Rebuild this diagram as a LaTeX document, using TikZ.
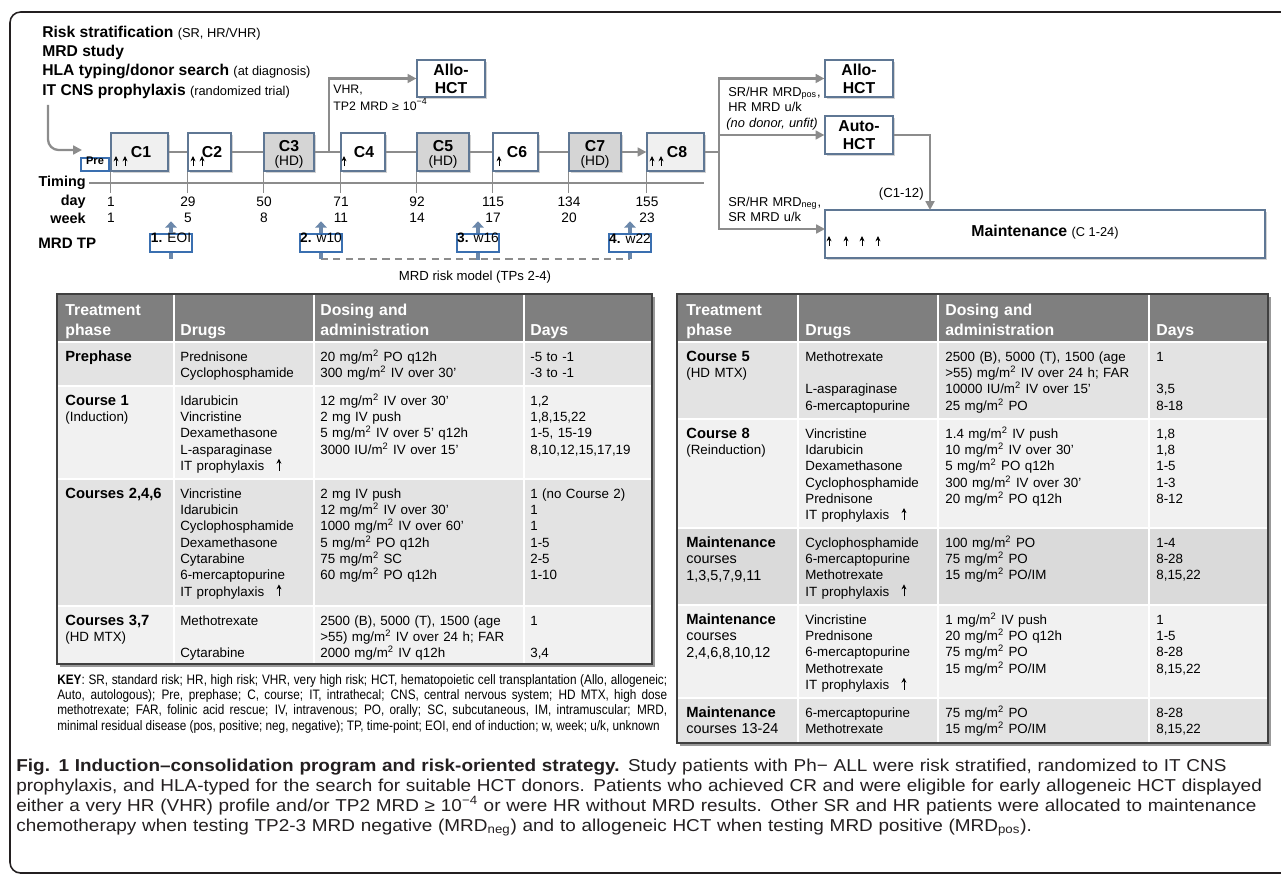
\documentclass[tikz,border=0pt]{standalone}
\usepackage{fontspec}
\setmainfont{Liberation Sans}
\newfontfamily\capfont[FakeStretch=1.1]{Liberation Sans}
\newfontfamily\keyfont[FakeStretch=0.86]{Liberation Sans}
\usetikzlibrary{arrows.meta,fit,shadows}

\definecolor{flowgray}{HTML}{8C8C8C}
\definecolor{boxline}{HTML}{5F7794}
\definecolor{tpblue}{HTML}{3A6FB0}
\definecolor{tpshaft}{HTML}{6B88AB}
\definecolor{hdfill}{HTML}{D5D5D5}
\definecolor{lightfill}{HTML}{F0F0F0}
\definecolor{headfill}{HTML}{7F7F7F}
\definecolor{rowmid}{HTML}{E3E3E3}
\definecolor{rowdark}{HTML}{DADADA}
\definecolor{rowlight}{HTML}{F1F1F1}
\definecolor{frameline}{HTML}{231F20}

\newcommand{\msq}{m\textsuperscript{2}}
\newcommand{\phasename}[1]{{\fontsize{8.4}{9.3}\selectfont\bfseries #1}}
\newcommand{\aside}[1]{{\mdseries\fontsize{7.3}{8}\selectfont #1}}
\newcommand{\itup}{\tikz[baseline=0pt]\draw[line width=0.45pt,-{Stealth[length=2.8pt,width=2.8pt]}] (0,-0.2pt) -- (0,6.6pt);}

\begin{document}
\begin{tikzpicture}[x=0.02cm, y=-0.02cm,
	cbox/.style={draw=boxline, line width=0.7pt, inner sep=0pt,
		drop shadow={shadow xshift=0.9pt, shadow yshift=-0.9pt, opacity=0.35}},
	hctbox/.style={cbox, fill=white},
	hctlabel/.style={inner sep=0pt, align=center, font=\fontsize{9}{10.4}\selectfont\bfseries},
	clabel/.style={inner sep=0pt, font=\fontsize{9}{10}\selectfont\bfseries},
	hdlabel/.style={inner sep=0pt, font=\fontsize{7.8}{9}\selectfont},
	head/.style={inner sep=0pt, anchor=base west, font=\fontsize{8.9}{10}\selectfont\bfseries},
	flow/.style={draw=flowgray, line width=1.3pt},
	flowarrow/.style={flow, -{Triangle[length=5pt,width=5pt]}},
	itarrow/.style={line width=0.45pt, -{Stealth[length=3pt,width=2.8pt]}},
	tpbox/.style={draw=tpblue, fill=white, line width=0.8pt, inner sep=0pt, font=\fontsize{7.8}{9}\selectfont},
	tparrow/.style={draw=tpshaft, line width=2.3pt, -{Triangle[length=3.6pt,width=6.5pt]}},
	tpstem/.style={draw=tpshaft, line width=2.3pt},
	riskdash/.style={draw=flowgray, line width=1pt, dash pattern=on 4pt off 3pt},
	tick/.style={draw=flowgray, line width=0.6pt},
	tline/.style={draw=flowgray, line width=0.9pt},
	bold/.style={inner sep=0pt, font=\fontsize{8.2}{9}\selectfont\bfseries},
	num/.style={inner sep=0pt, font=\fontsize{7.8}{9}\selectfont},
	lbl/.style={inner sep=0pt, anchor=base west, text width=2cm, align=left, font=\fontsize{7.3}{8.6}\selectfont},
	thead/.style={inner sep=0pt, anchor=base west, text width=4cm, align=left, text=white, font=\fontsize{9}{11.4}\selectfont\bfseries},
	cell/.style={inner sep=0pt, anchor=base west, text width=2.4cm, align=left, font=\fontsize{7.6}{9.3}\selectfont},
	phcell/.style={cell, text width=2.2cm},
	drcell/.style={cell, text width=2.6cm},
	dscell/.style={cell, text width=4cm},
	mcell/.style={phcell, font=\fontsize{8.2}{9.6}\selectfont},
	sep/.style={draw=white, line width=1pt},
	tframe/.style={draw=black!75, line width=0.8pt},
	tshadow/.style={fill=black!40},
	keytext/.style={inner sep=0pt, anchor=base west, text width=12.2cm, align=justify, font=\keyfont\fontsize{7.8}{8.8}\selectfont},
	captext/.style={inner sep=0pt, anchor=base west, text width=26cm, align=left, text=frameline, font=\capfont\fontsize{9.8}{11.4}\selectfont}
	]
	\useasboundingbox (0,0) rectangle (1281,875);
	\draw[frameline, line width=0.9pt, rounded corners=6pt] (1281,12) -- (10,12) -- (10,873) -- (1281,873);

	% heading
	\node[head] (risk) at (42,38) {Risk stratification \aside{(SR, HR/VHR)}};
	\node[head] (mrdstudy) at (42,57) {MRD study};
	\node[head] (hla) at (42,76) {HLA typing/donor search \aside{(at diagnosis)}};
	\node[head] (itcns) at (42,95) {IT CNS prophylaxis \aside{(randomized trial)}};

	\coordinate (start) at (48,105);
	\coordinate (startend) at (82,150);
	\draw[flowarrow, rounded corners=6pt] (start) |- (startend);

	% courses
	\node[cbox, fill=lightfill, fit={(111,133) (168,171)}] (c1) {};
	\node[cbox, fill=white, fit={(188,133) (231,171)}] (c2) {};
	\node[cbox, fill=hdfill, fit={(264,133) (314,171)}] (c3) {};
	\node[cbox, fill=white, fit={(341,133) (385,171)}] (c4) {};
	\node[cbox, fill=hdfill, fit={(417,133) (469,171)}] (c5) {};
	\node[cbox, fill=white, fit={(493,133) (538,171)}] (c6) {};
	\node[cbox, fill=hdfill, fit={(569,133) (621,171)}] (c7) {};
	\node[cbox, fill=lightfill, fit={(647,133) (704,171)}] (c8) {};
	\node[tpbox, fit={(81,158) (109,171)}, font=\fontsize{6.3}{7}\selectfont\bfseries] (pre) {Pre};

	\draw[flow] (c1) -- (c2);
	\draw[flow] (c2) -- (c3);
	\draw[flow] (c3) -- (c4);
	\draw[flow] (c4) -- (c5);
	\draw[flow] (c5) -- (c6);
	\draw[flow] (c6) -- (c7);
	\draw[flowarrow] (c7) -- (c8);

	\node[clabel] (c1t) at (141,152) {C1};
	\node[clabel] (c2t) at (212,152) {C2};
	\node[clabel] (c3t) at (289,146) {C3};
	\node[hdlabel] (c3h) at (289,162) {(HD)};
	\node[clabel] (c4t) at (364,152) {C4};
	\node[clabel] (c5t) at (443,146) {C5};
	\node[hdlabel] (c5h) at (443,162) {(HD)};
	\node[clabel] (c6t) at (517,152) {C6};
	\node[clabel] (c7t) at (595,146) {C7};
	\node[hdlabel] (c7h) at (595,162) {(HD)};
	\node[clabel] (c8t) at (677,152) {C8};
	\foreach \x in {116,125,193,202,344,499,652,661}
		\draw[itarrow] (\x,166) -- (\x,156);

	% VHR to early allo
	\node[hctbox, fit={(417,60) (485,97)}] (allo1) {};
	\node[hctlabel] (allo1t) at (allo1.center) {Allo-\\HCT};
	\coordinate (vhr) at (329,152);
	\draw[flowarrow] (vhr) |- (allo1);
	\node[lbl, font=\fontsize{7}{9.7}\selectfont] (vhrl) at (333,93) {VHR,\\TP2 MRD ≥ 10\textsuperscript{−4}};

	% after C8
	\node[hctbox, fit={(825,60) (893,97)}] (allo2) {};
	\node[hctlabel] (allo2t) at (allo2.center) {Allo-\\HCT};
	\node[hctbox, fit={(825,116) (893,154)}] (auto) {};
	\node[hctlabel] (autot) at (auto.center) {Auto-\\HCT};
	\node[hctbox, fit={(825,210) (1265,258)}] (maint) {};
	\node[inner sep=0pt, font=\fontsize{9}{10}\selectfont\bfseries] (mainttxt) at (1045,232) {Maintenance \aside{(C 1-24)}};
	\foreach \x in {829,846,862,878}
		\draw[itarrow] (\x,246) -- (\x,236);
	\coordinate (split) at (719,152);
	\coordinate (maintin) at (825,229);
	\coordinate (autoout) at (930,210);
	\draw[flow] (c8) -- (split);
	\draw[flowarrow] (split) |- (allo2);
	\draw[flowarrow] (split) |- (auto);
	\draw[flowarrow] (split) |- (maintin);
	\draw[flowarrow] (auto) -| (autoout);
	\node[lbl] (posl) at (728,96) {SR/HR MRD\textsubscript{pos},\\HR MRD u/k};
	\node[lbl, font=\fontsize{7.3}{8.6}\selectfont\itshape] (nodonor) at (726,128) {(no donor, unfit)};
	\node[lbl] (negl) at (728,206) {SR/HR MRD\textsubscript{neg},\\SR MRD u/k};
	\node[num, anchor=base east, font=\fontsize{7.5}{9}\selectfont] (c112) at (924,197) {(C1-12)};

	% timing
	\node[bold, anchor=east] (timing) at (86,183) {Timing};
	\node[bold, anchor=east] (dayl) at (86,202) {day};
	\node[bold, anchor=east] (weekl) at (86,218) {week};
	\coordinate (tlstart) at (89,183);
	\coordinate (tlend) at (704,183);
	\draw[tline] (tlstart) -- (tlend);
	\foreach \i in {1,...,8}
		\draw[tick] (c\i.south west) -- ++(0,21);
	\foreach \x/\d/\w in {111/1/1,188/29/5,264/50/8,341/71/11,417/92/14,493/115/17,569/134/20,647/155/23} {
		\node[num] (day\d) at (\x,202) {\d};
		\node[num] (week\w) at (\x,218) {\w};
	}

	% MRD time-points
	\node[bold, anchor=west, font=\fontsize{8.6}{9}\selectfont\bfseries] (mrdtp) at (38,243) {MRD TP};
	\node[tpbox, fit={(150,234) (192,252)}] (tp1) {\textbf{1.} EOI};
	\node[tpbox, fit={(300,234) (342,252)}] (tp2) {\textbf{2.} w10};
	\node[tpbox, fit={(457,234) (499,252)}] (tp3) {\textbf{3.} w16};
	\node[tpbox, fit={(609,234) (651,252)}] (tp4) {\textbf{4.} w22};
	\coordinate (rm2) at (321,259);
	\coordinate (rm4) at (630,259);
	\draw[riskdash] (rm2) -- (rm4);
	\foreach \i in {1,...,4}
		\draw[tparrow] (tp\i.north) -- ++(0,-12);
	\draw[tpstem] (tp1.south) -- ++(0,6);
	\draw[tpstem] (tp2.south) -- (rm2);
	\draw[tpstem] (tp3.south) -- ++(0,7);
	\draw[tpstem] (tp4.south) -- (rm4);
	\node[num, font=\fontsize{7.5}{9}\selectfont] (rmodel) at (475,277) {MRD risk model (TPs 2-4)};

	% left table
	\fill[tshadow] (60,297) rectangle (655,667);
	\fill[headfill] (57,294) rectangle (652,342);
	\fill[rowmid] (57,342) rectangle (652,386);
	\fill[rowlight] (57,386) rectangle (652,479);
	\fill[rowmid] (57,479) rectangle (652,606);
	\fill[rowlight] (57,606) rectangle (652,664);
	\foreach \x in {174,314,524}
		\draw[sep] (\x,294) -- (\x,664);
	\foreach \y in {342,386,479,606}
		\draw[sep] (57,\y) -- (652,\y);
	\draw[tframe] (57,294) rectangle (652,664);

	\node[thead, text width=2.2cm] (lh1) at (65,315) {Treatment\\phase};
	\node[thead, text width=2.6cm] (lh2) at (180,335) {Drugs};
	\node[thead] (lh3) at (320,315) {Dosing and\\administration};
	\node[thead, text width=2.4cm] (lh4) at (530,335) {Days};

	\node[phcell] (l1a) at (65,361) {\phasename{Prephase}};
	\node[drcell] (l1b) at (180,361) {Prednisone\\Cyclophosphamide};
	\node[dscell] (l1c) at (320,361) {20 mg/\msq{} PO q12h\\300 mg/\msq{} IV over 30’};
	\node[cell] (l1d) at (530,361) {-5 to -1\\-3 to -1};

	\node[phcell] (l2a) at (65,405) {\phasename{Course 1}\\(Induction)};
	\node[drcell] (l2b) at (180,405) {Idarubicin\\Vincristine\\Dexamethasone\\L-asparaginase\\IT prophylaxis\hspace{7pt}\itup};
	\node[dscell] (l2c) at (320,405) {12 mg/\msq{} IV over 30’\\2 mg IV push\\5 mg/\msq{} IV over 5’ q12h\\3000 IU/\msq{} IV over 15’};
	\node[cell] (l2d) at (530,405) {1,2\\1,8,15,22\\1-5, 15-19\\8,10,12,15,17,19};

	\node[phcell] (l3a) at (65,498) {\phasename{Courses 2,4,6}};
	\node[drcell] (l3b) at (180,498) {Vincristine\\Idarubicin\\Cyclophosphamide\\Dexamethasone\\Cytarabine\\6-mercaptopurine\\IT prophylaxis\hspace{7pt}\itup};
	\node[dscell] (l3c) at (320,498) {2 mg IV push\\12 mg/\msq{} IV over 30’\\1000 mg/\msq{} IV over 60’\\5 mg/\msq{} PO q12h\\75 mg/\msq{} SC\\60 mg/\msq{} PO q12h};
	\node[cell] (l3d) at (530,498) {1 (no Course 2)\\1\\1\\1-5\\2-5\\1-10};

	\node[phcell] (l4a) at (65,625) {\phasename{Courses 3,7}\\(HD MTX)};
	\node[drcell] (l4b) at (180,625) {Methotrexate\\\mbox{}\\Cytarabine};
	\node[dscell] (l4c) at (320,625) {2500 (B), 5000 (T), 1500 (age\\>55) mg/\msq{} IV over 24 h; FAR\\2000 mg/\msq{} IV q12h};
	\node[cell] (l4d) at (530,625) {1\\\mbox{}\\3,4};

	% right table
	\fill[tshadow] (680,297) rectangle (1271,746);
	\fill[headfill] (677,294) rectangle (1268,342);
	\fill[rowmid] (677,342) rectangle (1268,419);
	\fill[rowlight] (677,419) rectangle (1268,528);
	\fill[rowdark] (677,528) rectangle (1268,605);
	\fill[rowlight] (677,605) rectangle (1268,698);
	\fill[rowmid] (677,698) rectangle (1268,743);
	\foreach \x in {798,938,1149}
		\draw[sep] (\x,294) -- (\x,743);
	\foreach \y in {342,419,528,605,698}
		\draw[sep] (677,\y) -- (1268,\y);
	\draw[tframe] (677,294) rectangle (1268,743);

	\node[thead, text width=2.2cm] (rh1) at (686,315) {Treatment\\phase};
	\node[thead, text width=2.6cm] (rh2) at (805,335) {Drugs};
	\node[thead] (rh3) at (945,315) {Dosing and\\administration};
	\node[thead, text width=2.2cm] (rh4) at (1156,335) {Days};

	\node[phcell] (r1a) at (686,361) {\phasename{Course 5}\\(HD MTX)};
	\node[drcell] (r1b) at (805,361) {Methotrexate\\\mbox{}\\L-asparaginase\\6-mercaptopurine};
	\node[dscell] (r1c) at (945,361) {2500 (B), 5000 (T), 1500 (age\\>55) mg/\msq{} IV over 24 h; FAR\\10000 IU/\msq{} IV over 15’\\25 mg/\msq{} PO};
	\node[cell, text width=2.2cm] (r1d) at (1156,361) {1\\\mbox{}\\3,5\\8-18};

	\node[phcell] (r2a) at (686,438) {\phasename{Course 8}\\(Reinduction)};
	\node[drcell] (r2b) at (805,438) {Vincristine\\Idarubicin\\Dexamethasone\\Cyclophosphamide\\Prednisone\\IT prophylaxis\hspace{7pt}\itup};
	\node[dscell] (r2c) at (945,438) {1.4 mg/\msq{} IV push\\10 mg/\msq{} IV over 30’\\5 mg/\msq{} PO q12h\\300 mg/\msq{} IV over 30’\\20 mg/\msq{} PO q12h};
	\node[cell, text width=2.2cm] (r2d) at (1156,438) {1,8\\1,8\\1-5\\1-3\\8-12};

	\node[mcell] (r3a) at (686,547) {\phasename{Maintenance}\\courses\\1,3,5,7,9,11};
	\node[drcell] (r3b) at (805,547) {Cyclophosphamide\\6-mercaptopurine\\Methotrexate\\IT prophylaxis\hspace{7pt}\itup};
	\node[dscell] (r3c) at (945,547) {100 mg/\msq{} PO\\75 mg/\msq{} PO\\15 mg/\msq{} PO/IM};
	\node[cell, text width=2.2cm] (r3d) at (1156,547) {1-4\\8-28\\8,15,22};

	\node[mcell] (r4a) at (686,624) {\phasename{Maintenance}\\courses\\2,4,6,8,10,12};
	\node[drcell] (r4b) at (805,624) {Vincristine\\Prednisone\\6-mercaptopurine\\Methotrexate\\IT prophylaxis\hspace{7pt}\itup};
	\node[dscell] (r4c) at (945,624) {1 mg/\msq{} IV push\\20 mg/\msq{} PO q12h\\75 mg/\msq{} PO\\15 mg/\msq{} PO/IM};
	\node[cell, text width=2.2cm] (r4d) at (1156,624) {1\\1-5\\8-28\\8,15,22};

	\node[mcell] (r5a) at (686,717) {\phasename{Maintenance}\\courses 13-24};
	\node[drcell] (r5b) at (805,717) {6-mercaptopurine\\Methotrexate};
	\node[dscell] (r5c) at (945,717) {75 mg/\msq{} PO\\15 mg/\msq{} PO/IM};
	\node[cell, text width=2.2cm] (r5d) at (1156,717) {8-28\\8,15,22};

	% key and caption
	\node[keytext] (key) at (57,684) {\parfillskip=0pt \textbf{KEY}: SR, standard risk; HR, high risk; VHR, very high risk; HCT, hematopoietic cell transplantation (Allo, allogeneic;\linebreak
		Auto, autologous); Pre, prephase; C, course; IT, intrathecal; CNS, central nervous system; HD MTX, high dose\linebreak
		methotrexate; FAR, folinic acid rescue; IV, intravenous; PO, orally; SC, subcutaneous, IM, intramuscular; MRD,\linebreak
		minimal residual disease (pos, positive; neg, negative); TP, time-point; EOI, end of induction; w, week; u/k, unknown};

	\node[captext] (caption) at (16,771) {\textbf{Fig. 1 Induction–consolidation program and risk-oriented strategy.} Study patients with Ph− ALL were risk stratified, randomized to IT CNS\\
		prophylaxis, and HLA-typed for the search for suitable HCT donors. Patients who achieved CR and were eligible for early allogeneic HCT displayed\\
		either a very HR (VHR) profile and/or TP2 MRD ≥ 10\textsuperscript{−4} or were HR without MRD results. Other SR and HR patients were allocated to maintenance\\
		chemotherapy when testing TP2-3 MRD negative (MRD\textsubscript{neg}) and to allogeneic HCT when testing MRD positive (MRD\textsubscript{pos}).};
\end{tikzpicture}
\end{document}
